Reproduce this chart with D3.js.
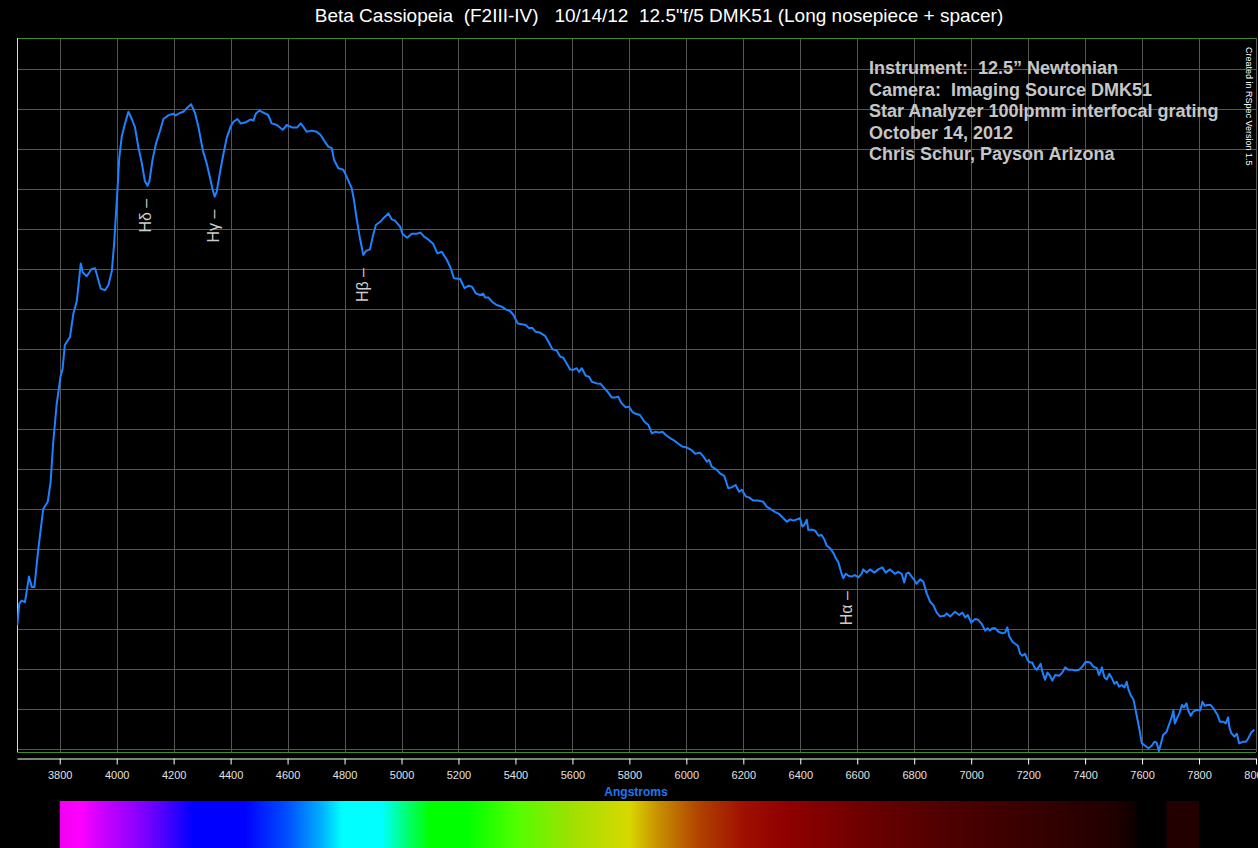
<!DOCTYPE html>
<html>
<head>
<meta charset="utf-8">
<script src="https://cdn.jsdelivr.net/npm/d3@7"></script>
<style>
  html, body { margin: 0; padding: 0; background: #000; }
  svg { display: block; }
  text { white-space: pre; }
</style>
</head>
<body>
<div id="chart"></div>
<script>
// spectrum of Beta Cas, wavelength (Angstrom) and relative intensity
const wavelengths = [
  3651, 3658, 3666, 3678, 3692, 3702, 3711, 3725, 3742, 3758, 3768, 3777, 3789, 3803, 3810, 3818,
  3836, 3848, 3860, 3874, 3881, 3895, 3912, 3924, 3932, 3944, 3959, 3971, 3983, 3991, 3998, 4002,
  4009, 4018, 4029, 4041, 4053, 4064, 4076, 4088, 4099, 4108, 4115, 4126, 4138, 4152, 4164, 4181,
  4199, 4207, 4222, 4234, 4246, 4261, 4275, 4287, 4303, 4316, 4328, 4337, 4344, 4351, 4363, 4374,
  4386, 4400, 4410, 4424, 4435, 4451, 4471, 4480, 4489, 4501, 4515, 4532, 4544, 4562, 4583, 4597,
  4615, 4634, 4646, 4655, 4667, 4685, 4702, 4716, 4731, 4743, 4755, 4763, 4778, 4796, 4807, 4825,
  4833, 4843, 4854, 4866, 4875, 4889, 4899, 4910, 4925, 4939, 4954, 4966, 4977, 4995, 5004, 5020,
  5036, 5053, 5067, 5079, 5094, 5111, 5126, 5141, 5159, 5173, 5184, 5206, 5221, 5235, 5247, 5261,
  5276, 5287, 5293, 5305, 5319, 5334, 5352, 5366, 5381, 5393, 5408, 5422, 5436, 5448, 5459, 5471,
  5486, 5504, 5516, 5530, 5545, 5557, 5568, 5580, 5592, 5603, 5615, 5623, 5633, 5647, 5658, 5668,
  5685, 5699, 5712, 5724, 5738, 5750, 5761, 5771, 5787, 5799, 5810, 5822, 5837, 5853, 5867, 5879,
  5890, 5904, 5916, 5928, 5943, 5958, 5972, 5986, 6001, 6017, 6031, 6048, 6060, 6072, 6080, 6089,
  6107, 6118, 6133, 6147, 6159, 6173, 6185, 6195, 6209, 6220, 6235, 6253, 6270, 6282, 6297, 6311,
  6325, 6341, 6353, 6364, 6376, 6388, 6399, 6407, 6414, 6423, 6428, 6443, 6452, 6464, 6475, 6485,
  6493, 6505, 6517, 6525, 6534, 6543, 6551, 6560, 6569, 6581, 6591, 6604, 6615, 6621, 6633, 6645,
  6660, 6674, 6688, 6700, 6715, 6732, 6744, 6756, 6765, 6773, 6781, 6791, 6800, 6808, 6821, 6832,
  6844, 6856, 6867, 6879, 6891, 6906, 6914, 6926, 6943, 6958, 6969, 6979, 6988, 7000, 7014, 7025,
  7037, 7049, 7058, 7066, 7074, 7084, 7096, 7110, 7119, 7127, 7134, 7145, 7154, 7164, 7172, 7180,
  7189, 7199, 7207, 7215, 7222, 7230, 7236, 7244, 7250, 7259, 7268, 7277, 7285, 7295, 7309, 7320,
  7330, 7341, 7355, 7365, 7379, 7390, 7402, 7418, 7429, 7441, 7449, 7459, 7468, 7476, 7485, 7494,
  7503, 7511, 7519, 7529, 7538, 7546, 7552, 7561, 7570, 7575, 7584, 7591, 7599, 7611, 7622, 7634,
  7643, 7651, 7659, 7666, 7674, 7686, 7694, 7703, 7710, 7715, 7724, 7732, 7740, 7747, 7756, 7761,
  7771, 7779, 7791, 7804, 7812, 7820, 7830, 7841, 7853, 7865, 7874, 7886, 7894, 7902, 7907, 7914,
  7924, 7933, 7941, 7953, 7965, 7973, 7983, 7994
];
const intensities = [
  0.314, 0.368, 0.376, 0.372, 0.436, 0.410, 0.410, 0.506, 0.605, 0.623, 0.672, 0.770, 0.865, 0.937, 0.955, 1.015,
  1.035, 1.094, 1.125, 1.219, 1.196, 1.187, 1.205, 1.207, 1.187, 1.156, 1.152, 1.165, 1.200, 1.268, 1.349, 1.394,
  1.483, 1.537, 1.568, 1.598, 1.580, 1.560, 1.510, 1.470, 1.425, 1.413, 1.425, 1.479, 1.519, 1.550, 1.580, 1.589,
  1.593, 1.589, 1.595, 1.598, 1.607, 1.617, 1.595, 1.560, 1.500, 1.469, 1.432, 1.403, 1.386, 1.398, 1.448, 1.490,
  1.532, 1.561, 1.573, 1.580, 1.569, 1.571, 1.579, 1.576, 1.594, 1.601, 1.596, 1.590, 1.569, 1.565, 1.553, 1.565,
  1.559, 1.559, 1.569, 1.561, 1.548, 1.551, 1.548, 1.540, 1.523, 1.511, 1.507, 1.478, 1.457, 1.453, 1.436, 1.407,
  1.378, 1.328, 1.282, 1.240, 1.250, 1.254, 1.286, 1.315, 1.323, 1.334, 1.344, 1.329, 1.326, 1.311, 1.292, 1.283,
  1.293, 1.293, 1.296, 1.286, 1.279, 1.268, 1.244, 1.248, 1.228, 1.207, 1.182, 1.180, 1.157, 1.163, 1.161, 1.144,
  1.140, 1.143, 1.134, 1.134, 1.122, 1.115, 1.111, 1.104, 1.100, 1.090, 1.069, 1.067, 1.065, 1.057, 1.058, 1.048,
  1.046, 1.038, 1.023, 1.004, 1.001, 0.986, 0.983, 0.969, 0.954, 0.953, 0.957, 0.948, 0.957, 0.938, 0.936, 0.923,
  0.919, 0.918, 0.907, 0.898, 0.884, 0.884, 0.886, 0.871, 0.859, 0.861, 0.848, 0.843, 0.840, 0.823, 0.815, 0.794,
  0.798, 0.796, 0.798, 0.790, 0.782, 0.776, 0.768, 0.761, 0.759, 0.753, 0.743, 0.746, 0.736, 0.723, 0.728, 0.711,
  0.703, 0.694, 0.688, 0.657, 0.659, 0.665, 0.648, 0.653, 0.636, 0.634, 0.626, 0.626, 0.623, 0.611, 0.604, 0.598,
  0.593, 0.582, 0.573, 0.579, 0.576, 0.579, 0.582, 0.561, 0.565, 0.578, 0.553, 0.553, 0.551, 0.538, 0.540, 0.528,
  0.513, 0.507, 0.494, 0.482, 0.471, 0.448, 0.432, 0.443, 0.438, 0.436, 0.440, 0.434, 0.443, 0.454, 0.446, 0.454,
  0.446, 0.454, 0.459, 0.446, 0.454, 0.443, 0.448, 0.443, 0.421, 0.444, 0.446, 0.436, 0.428, 0.418, 0.429, 0.423,
  0.394, 0.373, 0.365, 0.346, 0.336, 0.338, 0.344, 0.336, 0.348, 0.340, 0.346, 0.334, 0.340, 0.321, 0.330, 0.328,
  0.318, 0.301, 0.307, 0.301, 0.307, 0.307, 0.298, 0.294, 0.296, 0.309, 0.286, 0.273, 0.268, 0.263, 0.243, 0.238,
  0.243, 0.226, 0.221, 0.221, 0.209, 0.203, 0.209, 0.218, 0.198, 0.178, 0.196, 0.188, 0.176, 0.190, 0.188, 0.196,
  0.209, 0.203, 0.203, 0.201, 0.203, 0.211, 0.223, 0.221, 0.211, 0.207, 0.190, 0.209, 0.184, 0.179, 0.193, 0.182,
  0.168, 0.173, 0.161, 0.165, 0.159, 0.173, 0.154, 0.138, 0.128, 0.111, 0.078, 0.053, 0.019, 0.013, 0.007, 0.013,
  0.023, 0.021, 0.000, 0.018, 0.040, 0.048, 0.065, 0.082, 0.101, 0.069, 0.084, 0.096, 0.115, 0.109, 0.119, 0.103,
  0.088, 0.098, 0.103, 0.101, 0.123, 0.113, 0.115, 0.115, 0.104, 0.090, 0.073, 0.073, 0.069, 0.084, 0.057, 0.044,
  0.036, 0.043, 0.019, 0.023, 0.023, 0.032, 0.046, 0.053
];

// hydrogen Balmer lines marked on the plot
const lineNames = ['Hδ', 'Hγ', 'Hβ', 'Hα'];
const lineWavelengths = [4102, 4341, 4861, 6563];

const xTicks = d3.range(3800, 8001, 200);
const yTicks = d3.range(0, 1.75, 0.1);

const infoLines = [
  'Instrument:  12.5\u201d Newtonian',
  'Camera:  Imaging Source DMK51',
  'Star Analyzer 100lpmm interfocal grating',
  'October 14, 2012',
  'Chris Schur, Payson Arizona'
];

// colour strip under the axis
const stripWavelengths = [3800, 3870, 3950, 4050, 4150, 4270, 4450, 4600, 4720, 4790, 4930, 5020, 5100, 5230,
  5400, 5600, 5800, 5900, 6050, 6200, 6350, 6500, 6650, 6900, 7200, 7500, 7570, 7590, 7680, 7690, 7800];
const stripColors = ['#f000f0', '#ff00ff', '#cc00ff', '#9900ff', '#5a00ff', '#0000ff', '#0000ff', '#0050ff',
  '#00b0ff', '#00ffff', '#00ffff', '#00ff70', '#00ff00', '#00ff00', '#50ff00', '#a0e000', '#d8d800', '#c89000',
  '#b04000', '#a01000', '#900000', '#7e0000', '#6a0000', '#500000', '#380000', '#220000', '#100000', '#000000',
  '#000000', '#220000', '#220000'];

const width = 1258;
const height = 848;
const plot = {left: 17, right: 1256, top: 38, bottom: 751};

const x = d3.scaleLinear().domain([3650, 8000]).range([plot.left, plot.right]);
const y = d3.scaleLinear().domain([0, 1.7825]).range([plot.bottom, plot.top]);

const svg = d3.select('#chart').append('svg')
    .attr('width', width)
    .attr('height', height)
    .style('background', '#000')
    .style('font-family', '"Liberation Sans", Arial, sans-serif');

svg.append('text')
    .attr('x', 659)
    .attr('y', 22)
    .attr('text-anchor', 'middle')
    .attr('xml:space', 'preserve')
    .attr('fill', '#fff')
    .style('font-size', '19px')
    .text('Beta Cassiopeia  (F2III-IV)   10/14/12  12.5"f/5 DMK51 (Long nosepiece + spacer)');

// grid
const grid = svg.append('g').attr('stroke', '#555').attr('stroke-width', 1);
grid.selectAll('line.v')
  .data(xTicks)
  .join('line')
    .attr('class', 'v')
    .attr('x1', d => Math.round(x(d)) + 0.5)
    .attr('x2', d => Math.round(x(d)) + 0.5)
    .attr('y1', plot.top)
    .attr('y2', plot.bottom + 1);
grid.selectAll('line.h')
  .data(yTicks)
  .join('line')
    .attr('class', 'h')
    .attr('x1', plot.left)
    .attr('x2', plot.right)
    .attr('y1', d => Math.round(y(d)) - 1.5)
    .attr('y2', d => Math.round(y(d)) - 1.5);

// frame
svg.append('line').attr('x1', plot.left).attr('x2', plot.right)
    .attr('y1', plot.top + 0.5).attr('y2', plot.top + 0.5)
    .attr('stroke', '#3c8c28');
svg.append('line').attr('x1', plot.left).attr('x2', plot.right)
    .attr('y1', plot.bottom + 1.5).attr('y2', plot.bottom + 1.5)
    .attr('stroke', '#3c8c28');
svg.append('line').attr('x1', plot.left + 0.5).attr('x2', plot.left + 0.5)
    .attr('y1', plot.top).attr('y2', plot.bottom + 1)
    .attr('stroke', '#e6e65a');

// info block
svg.append('g')
    .attr('fill', '#c6c6c6')
    .style('font-size', '18px')
    .style('font-weight', 'bold')
  .selectAll('text')
  .data(infoLines)
  .join('text')
    .attr('xml:space', 'preserve')
    .attr('x', 869)
    .attr('y', (d, i) => 74 + i * 21.5)
    .text(d => d);

svg.append('text')
    .attr('transform', 'translate(1246,47) rotate(90)')
    .attr('fill', '#fff')
    .style('font-size', '9px')
    .text('Created in RSpec Version 1.5');

// spectrum curve
svg.append('clipPath').attr('id', 'plotclip')
  .append('rect')
    .attr('x', plot.left).attr('y', plot.top)
    .attr('width', plot.right - plot.left).attr('height', plot.bottom - plot.top + 2);

const points = wavelengths.map((w, i) => [w, intensities[i]]);
const line = d3.line().x(d => x(d[0])).y(d => y(d[1]));

svg.append('path')
    .datum(points)
    .attr('clip-path', 'url(#plotclip)')
    .attr('fill', 'none')
    .attr('stroke', '#1e82ff')
    .attr('stroke-width', 2)
    .attr('stroke-linejoin', 'round')
    .attr('d', line);

// Balmer line labels, hung just below the bottom of each dip
const dipAt = w => d3.min(points.filter(p => Math.abs(p[0] - w) <= 12), p => p[1]);
svg.append('g')
    .attr('fill', '#cccccc')
    .style('font-size', '16px')
  .selectAll('text')
  .data(lineNames)
  .join('text')
    .attr('transform', (d, i) => `translate(${x(lineWavelengths[i])},${y(dipAt(lineWavelengths[i])) + 13}) rotate(-90)`)
    .attr('text-anchor', 'end')
    .attr('dy', '0.35em')
    .attr('xml:space', 'preserve')
    .text(d => d + ' \u2013');

// x axis
const axis = svg.append('g')
    .attr('transform', 'translate(0,758.5)')
    .call(d3.axisBottom(x).tickValues(xTicks).tickSize(6).tickSizeOuter(0).tickPadding(7).tickFormat(d3.format('d')));
axis.select('.domain').attr('stroke', '#fff');
axis.selectAll('.tick line').attr('stroke', '#fff');
axis.selectAll('.tick text')
    .attr('fill', '#e0e0e0')
    .style('font-size', '11px')
    .style('font-family', '"Liberation Sans", Arial, sans-serif');

svg.append('text')
    .attr('x', 636)
    .attr('y', 796)
    .attr('text-anchor', 'middle')
    .attr('fill', '#1e78f0')
    .style('font-size', '12px')
    .style('font-weight', 'bold')
    .text('Angstroms');

// colour strip
const w0 = stripWavelengths[0], w1 = stripWavelengths[stripWavelengths.length - 1];
const grad = svg.append('defs').append('linearGradient')
    .attr('id', 'strip')
    .attr('gradientUnits', 'userSpaceOnUse')
    .attr('x1', x(w0))
    .attr('x2', x(w1))
    .attr('y1', 0).attr('y2', 0);
grad.selectAll('stop')
  .data(stripWavelengths)
  .join('stop')
    .attr('offset', d => (d - w0) / (w1 - w0))
    .attr('stop-color', (d, i) => stripColors[i]);

svg.append('rect')
    .attr('x', x(w0))
    .attr('y', 801)
    .attr('width', x(w1) - x(w0))
    .attr('height', height - 801)
    .attr('fill', 'url(#strip)');
</script>
</body>
</html>
